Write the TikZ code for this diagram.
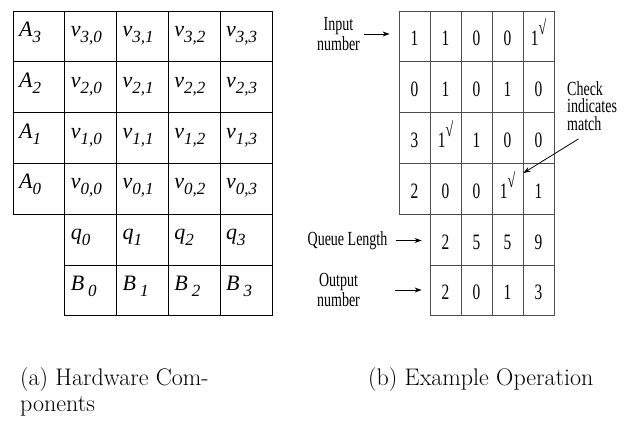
\documentclass[tikz,border=0pt]{standalone}
\usepackage{fontspec}
\newfontfamily\timesfont{Liberation Serif}
\usepackage{tikz}
\usetikzlibrary{positioning,arrows.meta}

% Hilfsmakros
\newcommand{\idx}[3][0pt]{\textit{#2}\hspace{#1}\raisebox{-6pt}{\fontsize{17}{17}\selectfont\itshape #3}}
\newcommand{\schmal}[1]{\scalebox{0.7}[1]{#1}}
\newcommand{\haken}{\raisebox{11pt}{\fontsize{20}{20}\selectfont √}}

\tikzset{
    zelleL/.style={draw, line width=1pt, minimum width=51.8pt, minimum height=50.8pt,
        text width=39.8pt, inner xsep=6pt, inner ysep=0pt, align=left,
        text height=8pt, text depth=8pt, font=\timesfont\fontsize{22}{26}\selectfont},
    zelleR/.style={draw=black!70, line width=0.8pt, minimum width=31pt, minimum height=50.8pt,
        inner sep=0pt, text height=19pt, text depth=0pt, font=\timesfont\fontsize{22}{26}\selectfont},
    beschr/.style={inner sep=0pt, align=center, font=\timesfont\fontsize{20}{20}\selectfont},
    pfeil/.style={->, line width=0.8pt},
    unterschrift/.style={anchor=base west, align=left, inner sep=0pt, font=\fontsize{24}{26}\selectfont}
}

\begin{document}
\begin{tikzpicture}[>={Stealth[length=7pt,width=5pt]}, x=1pt, y=-1pt]

    \useasboundingbox (0,0) rectangle (626,423);

    % linkes Gitter: A und v
    \foreach \z [count=\r] in {3,2,1,0} {
        \node (L-\r-0) at (38.9,{-14.4+50.8*\r}) [zelleL] {\idx{A}{\z}};
        \foreach \s [count=\c] in {0,...,3}
            \node (L-\r-\c) at ({38.9+51.8*\c},{-14.4+50.8*\r}) [zelleL] {\idx{v}{\z,\s}};
    }
    % linkes Gitter: q und B
    \foreach \s [count=\c] in {0,...,3} {
        \node (L-5-\c) at ({38.9+51.8*\c},{-14.4+50.8*5}) [zelleL] {\idx{q}{\s}};
        \node (L-6-\c) at ({38.9+51.8*\c},{-14.4+50.8*6}) [zelleL] {\idx[4pt]{B}{\s}};
    }

    % rechtes Gitter
    \foreach \zeile [count=\r] in {{1,1,0,0,1\haken},{0,1,0,1,0},{3,1\haken,1,0,0},{2,0,0,1\haken,1}}
        \foreach \w [count=\c from 0] in \zeile
            \node (R-\r-\c) at ({414.5+31*\c},{-14.4+50.8*\r}) [zelleR] {\schmal{\w}};
    \foreach \w [count=\c] in {2,5,5,9}
        \node (R-5-\c) at ({414.5+31*\c},{-14.4+50.8*5}) [zelleR] {\schmal{\w}};
    \foreach \w [count=\c] in {2,0,1,3}
        \node (R-6-\c) at ({414.5+31*\c},{-14.4+50.8*6}) [zelleR] {\schmal{\w}};

    % Beschriftungen
    \node (eingabe) at (338.5,34) [beschr] {\schmal{Input}\\\schmal{number}};
    \node (laenge) at (347.5,240.5) [beschr] {\schmal{Queue Length}};
    \node (ausgabe) at (338.5,290) [beschr] {\schmal{Output}\\\schmal{number}};
    \node (hinweis) at (567,81) [beschr, anchor=north west, align=left,
        font=\timesfont\fontsize{20}{17.5}\selectfont] {\schmal{Check}\\\schmal{indicates}\\\schmal{match}};

    % Pfeile
    \coordinate (treffer) at ([yshift=-10pt]R-4-3.north east);
    \draw[pfeil, shorten <=4pt, shorten >=9pt] (eingabe.east) -- (eingabe.east -| R-1-0.west);
    \draw[pfeil, shorten <=8pt, shorten >=8pt] (laenge.east) -- (laenge.east -| R-5-1.west);
    \draw[pfeil, shorten <=35pt, shorten >=8pt] (ausgabe.east) -- (ausgabe.east -| R-6-1.west);
    \draw[pfeil, shorten <=16pt] (hinweis.south) -- (treffer);

    % Unterschriften
    \node (capA) at (20,411) [unterschrift] {(a) Hardware Com-\\ponents};
    \node (capB) at (368,385) [unterschrift] {(b) Example Operation};

\end{tikzpicture}
\end{document}
